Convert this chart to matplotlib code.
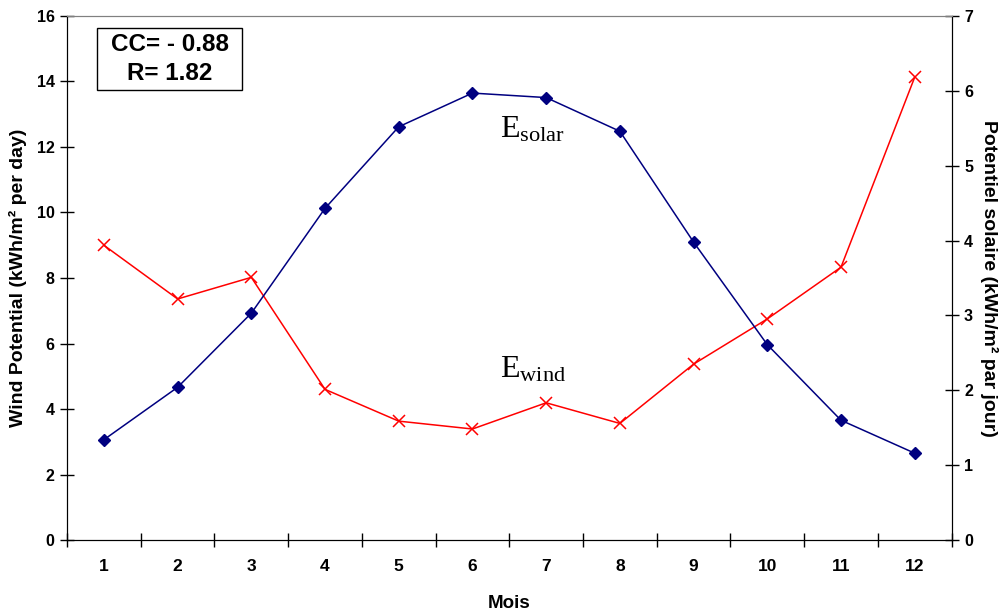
import numpy as np
import matplotlib
matplotlib.use("Agg")
import matplotlib.pyplot as plt
from matplotlib.patches import Rectangle

# =========================
# Daten
# =========================
mois = [1, 2, 3, 4, 5, 6, 7, 8, 9, 10, 11, 12]
wind = [9.0, 7.36, 8.02, 4.6, 3.63, 3.39, 4.19, 3.56, 5.37, 6.75, 8.33, 14.13]
solaire = [1.34, 2.04, 3.03, 4.43, 5.52, 5.97, 5.91, 5.46, 3.98, 2.61, 1.60, 1.16]
mois_labels = [str(m) for m in mois]

plt.rcParams["font.family"] = ["Liberation Sans", "DejaVu Sans"]
plt.rcParams["mathtext.fontset"] = "custom"
plt.rcParams["mathtext.rm"] = "Liberation Serif"
plt.rcParams["mathtext.it"] = "Liberation Serif"

fig = plt.figure(figsize=(10.08, 6.12), dpi=100)
ax = fig.add_axes([0.0665, 0.1176, 0.8775, 0.8563])
ax2 = ax.twinx()

# =========================
# Kurven
# =========================
ax.plot(mois, wind, color="#FF0000", lw=1.1, marker="x", ms=9, mew=1.1, zorder=3)
ax2.plot(mois, solaire, color="#000080", lw=1.1, marker="D", ms=6, zorder=3)

ax.set_xlim(0.5, 12.5)
ax.set_ylim(0, 16)
ax2.set_ylim(0, 7)

# Achsen
ax.set_xticks(np.arange(0.5, 13, 1))
ax.set_xticklabels([])
ax.set_xticks(mois, minor=True)
ax.set_xticklabels(mois_labels, minor=True, fontsize=12.5, fontweight="bold")
ax.tick_params(axis="x", which="major", direction="inout", length=10, width=1)
ax.tick_params(axis="x", which="minor", length=0, pad=14)

ax.set_yticks(np.arange(0, 17, 2))
ax.tick_params(axis="y", direction="inout", length=10, width=1, labelsize=11.5, pad=4)
for lab in ax.get_yticklabels():
    lab.set_fontweight("bold")

ax2.set_yticks(np.arange(0, 8, 1))
ax2.tick_params(axis="y", direction="inout", length=10, width=1, labelsize=11.5, pad=4)
for lab in ax2.get_yticklabels():
    lab.set_fontweight("bold")

for a in (ax, ax2):
    a.spines["top"].set_color("#808080")
    a.spines["left"].set_color("black")
    a.spines["right"].set_color("black")
    a.spines["bottom"].set_color("black")

ax.set_xlabel("Mois", fontsize=13.5, fontweight="bold", labelpad=15)
ax.set_ylabel("Wind Potential (kWh/m² per day)", fontsize=14, fontweight="bold", labelpad=7)
ax2.set_ylabel("Potentiel solaire (kWh/m² par jour)", fontsize=14, fontweight="bold",
               rotation=270, labelpad=18)

# Beschriftungen
ax.add_patch(Rectangle((0.034, 0.859), 0.164, 0.118, transform=ax.transAxes,
                       fc="white", ec="black", lw=1, zorder=4))
ax.text(0.116, 0.918, "CC= - 0.88\nR= 1.82", transform=ax.transAxes,
        ha="center", va="center", fontsize=17.5, fontweight="bold", linespacing=1.35,
        zorder=5)

ax.text(0.489, 0.768, r"$\mathrm{E}_{\mathrm{solar}}$", transform=ax.transAxes,
        ha="left", va="baseline", fontsize=23)
ax.text(0.489, 0.310, r"$\mathrm{E}_{\mathrm{wind}}$", transform=ax.transAxes,
        ha="left", va="baseline", fontsize=23)

fig.savefig("out.png", dpi=100)
